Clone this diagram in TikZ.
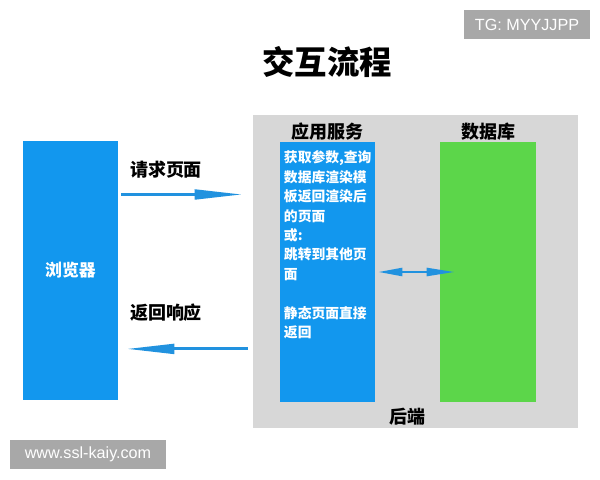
\documentclass[tikz,border=0pt]{standalone}
\usepackage{fontspec}
\setmainfont{Liberation Sans}
\newfontfamily\cjk{Noto Sans CJK SC}
\usetikzlibrary{arrows.meta,positioning,calc}
\definecolor{pageblue}{HTML}{1297EE}
\definecolor{arrowblue}{HTML}{2192DF}
\definecolor{dbgreen}{HTML}{5CD64A}
\definecolor{backgray}{HTML}{D7D7D7}
\definecolor{markgray}{HTML}{A8A8A8}

\begin{document}
\begin{tikzpicture}[x=0.025cm, y=-0.025cm,
		column/.style = {rectangle, inner sep=0pt, minimum width=2.375cm, minimum height=6.5cm},
		caption/.style = {font=\cjk\bfseries\fontsize{12.8}{15}\selectfont, inner sep=1pt},
		flow/.style = {draw=arrowblue, line width=2.2pt, -{Triangle[length=1.2cm, width=0.24cm]}},
		swap/.style = {draw=arrowblue, line width=1.6pt, {Triangle[length=0.6cm, width=0.2cm]}-{Triangle[length=0.7cm, width=0.2cm]}},
		wmark/.style = {fill=markgray, text=white, font=\fontsize{11.5}{13}\selectfont, minimum height=0.725cm, inner sep=0pt}]
	
	\useasboundingbox (0,0) rectangle (600,480);
	\fill[white] (0,0) rectangle (600,480);
	
	\node[caption, font=\cjk\bfseries\fontsize{23}{26}\selectfont] (title) at (327,62) {交互流程};
	
	\node[column, fill=backgray, minimum width=8.125cm, minimum height=7.825cm] (back) at (415.5,271.5) {};
	\node[column, fill=pageblue, minimum height=6.475cm] (browser) at (70.5,270.5) {};
	\node[column, fill=pageblue] (app) at (327.5,272) {};
	\node[column, fill=dbgreen, minimum width=2.4cm] (db) at (488,272) {};
	
	\node[caption, text=white, font=\cjk\bfseries\fontsize{12}{14}\selectfont] (browsertext) at (browser) {浏览器};
	\node[caption, above=0pt of app] (apptitle) {应用服务};
	\node[caption, above=0pt of db] (dbtitle) {数据库};
	\node[caption, below=0.1cm] (backtitle) at ($(app.south)!0.5!(db.south)$) {后端};
	
	\node[anchor=north west, inner sep=0pt, align=left, text=white, font=\cjk\bfseries\fontsize{9.8}{13.8}\selectfont] (apptext)
		at ([xshift=0.1cm, yshift=-0.22cm]app.north west)
		{获取参数,查询\\数据库渲染模\\板返回渲染后\\的页面\\或:\\跳转到其他页\\面\\[13.8pt]静态页面直接\\返回};
	
	% request and response
	\draw[flow, shorten <=0.075cm, shorten >=0.25cm] ([yshift=1.9cm]browser.east) -- ([yshift=1.9cm]browser.east -| back.west);
	\draw[flow, shorten <=0.125cm, shorten >=0.2cm] ([yshift=-1.96cm]browser.east -| back.west) -- ([yshift=-1.96cm]browser.east);
	\node[caption] (request) at (166,170) {请求页面};
	\node[caption] (response) at (166,313) {返回响应};
	
	\draw[swap] ([xshift=0.075cm]app.east) -- ([xshift=0.375cm]db.west);
	
	\node[wmark, minimum width=3.125cm] (tg) at (527,24.5) {TG: MYYJJPP};
	\node[wmark, minimum width=3.9cm] (site) at (88,454.5) {www.ssl-kaiy.com};
	
\end{tikzpicture}
\end{document}
